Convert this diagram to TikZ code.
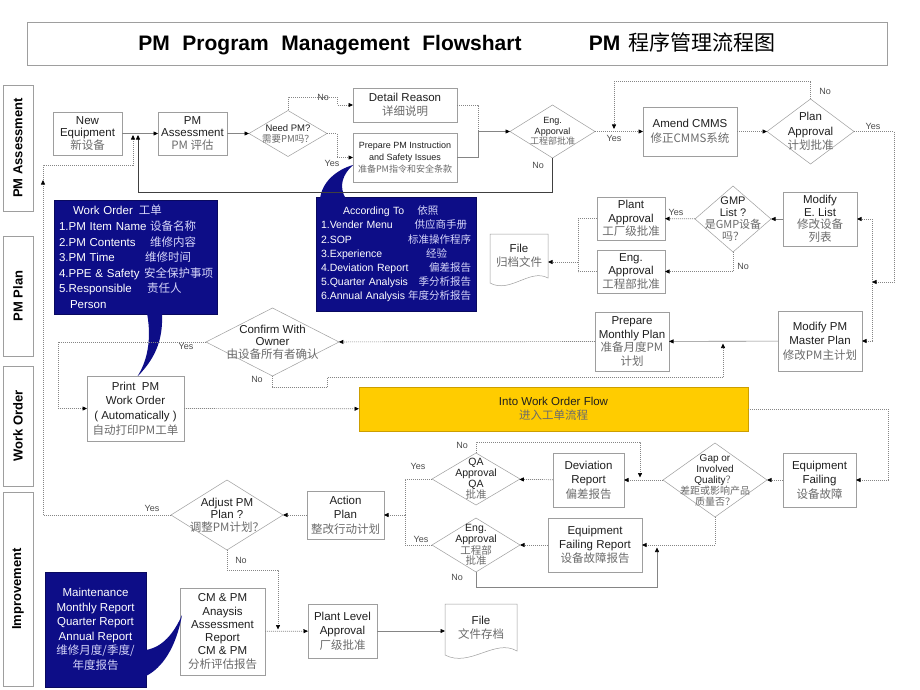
\documentclass[tikz,border=0pt]{standalone}
\usepackage{fontspec}
\setmainfont{Liberation Sans}
\newfontfamily\cjk{Noto Sans CJK SC}
\usetikzlibrary{arrows.meta,calc,positioning,shapes.geometric}
\definecolor{azulmarino}{rgb}{0.05, 0.05, 0.53}
\definecolor{amarillo}{rgb}{1.00, 0.80, 0.00}
\definecolor{ocre}{rgb}{0.80, 0.62, 0.00}
\definecolor{grisborde}{rgb}{0.62, 0.62, 0.62}
\definecolor{grislinea}{rgb}{0.52, 0.52, 0.52}
\definecolor{gristexto}{rgb}{0.12, 0.12, 0.12}
\definecolor{grischino}{rgb}{0.42, 0.42, 0.42}
\definecolor{lavanda}{rgb}{0.84, 0.84, 0.98}
\newcommand{\chino}[1]{{\cjk\color{grischino}#1}}
\newcommand{\chinoclaro}[1]{{\cjk\color{lavanda}#1}}
\tikzset{
  caja/.style={
    draw=grisborde,
    line width=.5pt,
    fill=white,
    align=center,
    inner sep=1pt,
    outer sep=0pt,
    text=gristexto,
    font=\fontsize{11.5}{13.5}\selectfont
  },
  decision/.style={
    diamond,
    draw=grisborde,
    line width=.5pt,
    fill=white,
    inner sep=0pt,
    outer sep=0pt
  },
  dtexto/.style={
    align=center,
    inner sep=0pt,
    text=gristexto,
    font=\fontsize{11}{11}\selectfont
  },
  nota/.style={
    fill=azulmarino,
    draw=azulmarino!70!black,
    text=white,
    align=left,
    inner sep=5pt,
    outer sep=0pt,
    font=\fontsize{11.5}{15.6}\selectfont
  },
  carril/.style={
    draw=grisborde,
    line width=.5pt,
    rotate=90,
    text=black,
    font=\fontsize{13}{15}\selectfont\bfseries
  },
  etiqueta/.style={
    inner sep=0pt,
    text=gristexto!80,
    font=\fontsize{9}{10}\selectfont
  },
  linea/.style={draw=grislinea, line width=.6pt},
  punteada/.style={draw=grislinea, line width=.7pt, dash pattern=on 1pt off 1pt},
  retorno/.style={draw=black!75, line width=.7pt},
  flecha/.style={-{Triangle[length=4.5pt,width=4pt,color=black]}},
  cola/.style={fill=azulmarino, draw=none}
}
\begin{document}
\begin{tikzpicture}[x=1pt,y=-1pt]
\path[use as bounding box, fill=white] (0,0) rectangle (920,690);

\node[caja, minimum width=860pt, minimum height=43pt, text=black, font=\fontsize{21}{24}\selectfont\bfseries] (titulo) at (457,43.5) {PM\hspace{.6em}Program\hspace{.6em}Management\hspace{.6em}Flowshart\hspace{3.2em}PM\hspace{.4em}{\cjk\mdseries 程序管理流程图}};

\node[carril, minimum width=126pt, minimum height=30pt] (c1) at (18,148) {PM Assessment};
\node[carril, minimum width=120pt, minimum height=30pt] (c2) at (18,296) {PM Plan};
\node[carril, minimum width=120pt, minimum height=30pt] (c3) at (18,426) {Work Order};
\node[carril, minimum width=194pt, minimum height=30pt] (c4) at (18,589) {Improvement};

\node[caja, minimum width=69pt, minimum height=43pt, font=\fontsize{11.5}{12.3}\selectfont] (neq) at (87.5,133.5) {New\\Equipment\\\chino{新设备}};
\node[caja, minimum width=69pt, minimum height=43pt, right=36pt of neq, font=\fontsize{11.5}{12.3}\selectfont] (pma) {PM\\Assessment\\\chino{PM 评估}};
\node[decision, minimum width=78pt, minimum height=46pt, right=22pt of pma, label={[dtexto, font=\fontsize{9.5}{11}\selectfont]center:{Need PM?\\\chino{需要PM吗？}}}] (needPM) {};
\node[caja, minimum width=104pt, minimum height=34pt, font=\fontsize{11.5}{14}\selectfont] (detail) at (405,105) {Detail Reason\\\chino{详细说明}};
\node[caja, minimum width=104pt, minimum height=49pt, font=\fontsize{9}{12}\selectfont] (prep) at (405,157.5) {Prepare PM Instruction\\and Safety Issues\\\chino{准备PM指令和安全条款}};
\node[decision, minimum width=85pt, minimum height=53pt, label={[dtexto, font=\fontsize{9}{10.5}\selectfont]center:{Eng.\\Apporval\\\chino{工程部批准}}}] (engAp) at (552.5,131.5) {};
\node[caja, minimum width=94pt, minimum height=49pt, font=\fontsize{11.5}{15}\selectfont] (amend) at (690,131.5) {Amend CMMS\\\chino{修正CMMS系统}};
\node[decision, minimum width=87pt, minimum height=65pt, label={[dtexto, font=\fontsize{11.5}{14.5}\selectfont]center:{Plan\\Approval\\\chino{计划批准}}}] (planAp) at (810.5,131.5) {};

\node[caja, minimum width=74pt, minimum height=54pt, font=\fontsize{11.5}{12.5}\selectfont] (modE) at (820,219) {Modify\\E. List\\\chino{修改设备}\\\chino{列表}};
\node[decision, minimum width=76pt, minimum height=66pt, label={[dtexto, font=\fontsize{11}{12}\selectfont]center:{GMP\\List ?\\\chino{是GMP设备}\\\chino{吗？}}}] (gmp) at (733,219) {};
\node[caja, minimum width=68pt, minimum height=43pt, font=\fontsize{11.5}{13.3}\selectfont] (plantAp) at (631,218.5) {Plant\\Approval\\\chino{工厂级批准}};
\node[caja, minimum width=68pt, minimum height=43pt, font=\fontsize{11.5}{13.3}\selectfont] (engBox) at (631,271.5) {Eng.\\Approval\\\chino{工程部批准}};
\node[caja, draw=none, fill=none, minimum width=58pt, minimum height=44pt, font=\fontsize{11.5}{14}\selectfont] (file1) at (519,256) {File\\\chino{归档文件}};
\draw[draw=grisborde, line width=.5pt] (file1.north west) -- (file1.north east) -- (file1.south east) .. controls ($(file1.south east)+(-18,-10)$) and ($(file1.south west)+(20,16)$) .. ($(file1.south west)+(0,5)$) -- cycle;

\node[nota, text width=153pt, minimum height=114pt, anchor=north west] (wo) at (54,200) {\hspace*{14pt}Work Order\hspace{6pt}\chinoclaro{工单}\\
\makebox[91pt][l]{1.PM Item Name}\chinoclaro{设备名称}\\
\makebox[91pt][l]{2.PM Contents}\chinoclaro{维修内容}\\
\makebox[86pt][l]{3.PM Time}\chinoclaro{维修时间}\\
\makebox[85pt][l]{4.PPE \& Safety}\chinoclaro{安全保护事项}\\
\makebox[88pt][l]{5.Responsible}\chinoclaro{责任人}\\
\hspace*{11pt}Person};
\node[nota, text width=150pt, minimum height=114pt, anchor=north west, font=\fontsize{10.5}{14.2}\selectfont] (seg) at (316,197) {\hspace*{22pt}According To\hspace{13pt}\chinoclaro{依照}\\
1.Vender Menu\hfill\chinoclaro{供应商手册}\hspace*{4pt}\null\\
2.SOP\hfill\chinoclaro{标准操作程序}\\
3.Experience\hfill\chinoclaro{经验}\hspace*{24pt}\null\\
4.Deviation Report\hfill\chinoclaro{偏差报告}\\
5.Quarter Analysis\hfill\chinoclaro{季分析报告}\\
6.Annual Analysis\hfill\chinoclaro{年度分析报告}};
\fill[cola] (320,199) .. controls (322,182) and (336,170) .. (353,165) .. controls (343,174) and (338,186) .. (346,199) -- cycle;
\fill[cola] (147,313) .. controls (152,340) and (147,362) .. (137,377) .. controls (158,356) and (163,336) .. (162,313) -- cycle;

\node[caja, minimum width=84pt, minimum height=60pt, font=\fontsize{11.5}{14.5}\selectfont] (modPM) at (820,341) {Modify PM\\Master Plan\\\chino{修改PM主计划}};
\node[caja, minimum width=74pt, minimum height=59pt, font=\fontsize{11.5}{13.6}\selectfont] (prepMon) at (632,341.5) {Prepare\\Monthly Plan\\\chino{准备月度PM}\\\chino{计划}};
\node[decision, minimum width=133pt, minimum height=68pt, label={[dtexto, font=\fontsize{11.5}{12.5}\selectfont]center:{Confirm With\\Owner\\\chino{由设备所有者确认}}}] (confirm) at (272.5,342) {};
\node[caja, minimum width=97pt, minimum height=65pt, font=\fontsize{11.5}{14.8}\selectfont] (print) at (135.5,408.5) {Print\ \ PM\\Work Order\\( Automatically )\\\chino{自动打印PM工单}};
\node[caja, fill=amarillo, draw=ocre, minimum width=389pt, minimum height=44pt, font=\fontsize{11.5}{14}\selectfont] (into) at (553.5,409) {Into Work Order Flow\\\chino{进入工单流程}};

\node[caja, minimum width=73pt, minimum height=54pt, font=\fontsize{11.5}{14.5}\selectfont] (eqFail) at (819.5,480) {Equipment\\Failing\\\chino{设备故障}};
\node[decision, minimum width=104pt, minimum height=74pt, label={[dtexto, font=\fontsize{10}{11}\selectfont]center:{Gap or\\Involved\\Quality\chino{？}\\\chino{差距或影响产品}\\\chino{质量否？}}}] (gap) at (715,480) {};
\node[caja, minimum width=71pt, minimum height=54pt, font=\fontsize{11.5}{14.5}\selectfont] (dev) at (588.5,480) {Deviation\\Report\\\chino{偏差报告}};
\node[decision, minimum width=88pt, minimum height=52pt, label={[dtexto, font=\fontsize{10.5}{10.7}\selectfont]center:{QA\\Approval\\QA\\\chino{批准}}}] (qa) at (476,479) {};
\node[caja, minimum width=94pt, minimum height=54pt, font=\fontsize{11.5}{14}\selectfont] (efr) at (595,545) {Equipment\\Failing Report\\\chino{设备故障报告}};
\node[decision, minimum width=88pt, minimum height=54pt, label={[dtexto, font=\fontsize{10.5}{10.7}\selectfont]center:{Eng.\\Approval\\\chino{工程部}\\\chino{批准}}}] (eng2) at (476,545) {};
\node[caja, minimum width=77pt, minimum height=48pt, font=\fontsize{11.5}{14.5}\selectfont] (action) at (345.5,515) {Action\\Plan\\\chino{整改行动计划}};
\node[decision, minimum width=112pt, minimum height=70pt, label={[dtexto, font=\fontsize{11.5}{12.5}\selectfont]center:{Adjust PM\\Plan ?\\\chino{调整PM计划？}}}] (adjust) at (227,515) {};

\node[nota, align=center, minimum width=101pt, minimum height=115pt, font=\fontsize{11.5}{14.5}\selectfont] (mt) at (95.5,629.5) {Maintenance\\Monthly Report\\Quarter Report\\Annual Report\\\chinoclaro{维修月度/季度/}\\\chinoclaro{年度报告}};
\node[caja, minimum width=85pt, minimum height=87pt, font=\fontsize{11.5}{13.3}\selectfont] (cm) at (222.5,631.5) {CM \& PM\\Anaysis\\Assessment\\Report\\CM \& PM\\\chino{分析评估报告}};
\fill[cola] (146,650) .. controls (163,647) and (174,633) .. (182,615) .. controls (176,648) and (162,668) .. (146,676) -- cycle;
\node[caja, minimum width=69pt, minimum height=54pt, font=\fontsize{11.5}{14.5}\selectfont] (plantLv) at (342.5,631) {Plant Level\\Approval\\\chino{厂级批准}};
\node[caja, draw=none, fill=none, minimum width=72pt, minimum height=48pt, font=\fontsize{11.5}{14}\selectfont] (file2) at (481,628) {File\\\chino{文件存档}};
\draw[draw=grisborde, line width=.5pt] (file2.north west) -- (file2.north east) -- ($(file2.south east)+(0,-1)$) .. controls ($(file2.south east)+(-22,-14)$) and ($(file2.south west)+(25,16)$) .. ($(file2.south west)+(0,3)$) -- cycle;

\coordinate (m1) at (138,135);
\coordinate (m2) at (133,135);
\coordinate (l1) at (43,180);
\coordinate (l2) at (43,165);
\coordinate (j1) at (478,131.5);
\coordinate (m3) at (614,129);
\coordinate (j2) at (872,282);
\coordinate (j3) at (578,262);
\coordinate (m4) at (723,343.5);
\coordinate (m5) at (640,477.5);
\coordinate (m6) at (657,547.5);
\coordinate (j4) at (405,515);
\coordinate (m7) at (278,629.5);

\draw[linea, flecha] (neq) -- (pma);
\draw[linea, flecha] (pma) -- (needPM);
\draw[punteada, flecha] (needPM.north) -- ++(0,-13) -- ++(49,0) |- (detail.west);
\draw[punteada, flecha] (needPM.east) -- ++(10,0) |- (prep.west);
\draw[punteada] (detail.east) -| (j1);
\draw[linea] (prep.east) -| (j1);
\draw[linea, flecha] (j1) -- (engAp.west);
\draw[retorno, flecha] (engAp.south) -- ++(0,34) -| (m1);
\draw[punteada, flecha] (adjust.west) -| (l1);
\draw[punteada, flecha] (l1) -- (l2) -| (m2);
\draw[punteada, flecha] (engAp.east) -- (amend.west);
\draw[punteada, flecha] (amend) -- (planAp);
\draw[punteada, flecha] (planAp.north) -- ++(0,-18) -| (m3);
\draw[punteada, flecha] (planAp.east) -| ($(j2)+(22,0)$) -- (j2);
\draw[punteada, flecha] (j2) |- (modE.east);
\draw[punteada, flecha] (j2) |- (modPM.east);
\draw[linea, flecha] (modE) -- (gmp);
\draw[punteada, flecha] (gmp) -- (plantAp);
\draw[punteada, flecha] (gmp.south) |- (engBox.east);
\draw[punteada] (plantAp.west) -| (j3);
\draw[punteada] (engBox.west) -| (j3);
\draw[punteada, flecha] (j3) -- (j3 -| file1.east);
\draw[linea, flecha] (modPM) -- (prepMon);
\draw[punteada, flecha] (confirm.south) -- ++(0,11) -- ++(55,0) -- ++(0,-10) -| (m4);
\draw[punteada, flecha] (prepMon) -- (confirm);
\draw[punteada, flecha] (confirm.west) -- ++(-148,0) |- (print.west);
\draw[punteada, flecha] (print) -- (into);
\draw[punteada, flecha] (into.east) -| ($(eqFail.east)+(32,0)$) -- (eqFail.east);
\draw[punteada, flecha] (eqFail) -- (gap);
\draw[punteada, flecha] (gap) -- (dev);
\draw[punteada, flecha] (qa.north) -- ++(0,-11) -| (m5);
\draw[punteada, flecha] (dev) -- (qa);
\draw[punteada, flecha] (gap.south) |- (efr.east);
\draw[punteada, flecha] (efr) -- (eng2);
\draw[linea, flecha] (eng2.south) -- ++(0,15) -| (m6);
\draw[punteada] (qa.west) -| (j4);
\draw[punteada] (eng2.west) -| (j4);
\draw[punteada, flecha] (j4) -- (action.east);
\draw[punteada, flecha] (action) -- (adjust);
\draw[punteada, flecha] (adjust.south) -- ++(0,20) -| (m7);
\draw[punteada, flecha] (cm) -- (plantLv);
\draw[linea, flecha] (plantLv.east) -- (plantLv.east -| file2.west);

\node[etiqueta] (noNeed) at (323,97) {No};
\node[etiqueta] (yesNeed) at (332,163) {Yes};
\node[etiqueta] (noEng) at (538,165) {No};
\node[etiqueta] (yesEng) at (614,138) {Yes};
\node[etiqueta] (noPlan) at (825,91) {No};
\node[etiqueta] (yesPlan) at (873,126) {Yes};
\node[etiqueta] (yesGmp) at (676,212) {Yes};
\node[etiqueta] (noGmp) at (743,266) {No};
\node[etiqueta] (yesConf) at (186,346) {Yes};
\node[etiqueta] (noConf) at (257,379) {No};
\node[etiqueta] (noQA) at (462,445) {No};
\node[etiqueta] (yesQA) at (418,466) {Yes};
\node[etiqueta] (yesEng2) at (421,539) {Yes};
\node[etiqueta] (noEng2) at (457,577) {No};
\node[etiqueta] (yesAdj) at (152,508) {Yes};
\node[etiqueta] (noAdj) at (241,560) {No};
\end{tikzpicture}
\end{document}
